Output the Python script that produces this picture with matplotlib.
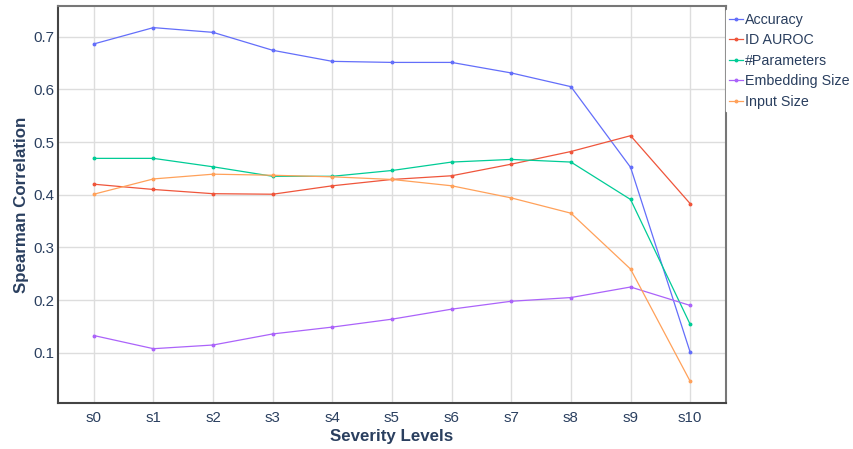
import matplotlib.pyplot as plt

plt.rcParams["font.family"] = ["Liberation Sans", "DejaVu Sans"]

levels = ["s0", "s1", "s2", "s3", "s4", "s5", "s6", "s7", "s8", "s9", "s10"]
accuracy = [0.686, 0.717, 0.708, 0.674, 0.653, 0.651, 0.651, 0.631, 0.605, 0.452, 0.101]
id_auroc = [0.420, 0.410, 0.402, 0.401, 0.417, 0.429, 0.436, 0.458, 0.482, 0.512, 0.383]
n_params = [0.469, 0.469, 0.453, 0.435, 0.435, 0.446, 0.462, 0.467, 0.462, 0.391, 0.154]
embed_size = [0.133, 0.108, 0.115, 0.136, 0.149, 0.164, 0.183, 0.198, 0.205, 0.225, 0.190]
input_size = [0.401, 0.430, 0.439, 0.437, 0.434, 0.429, 0.417, 0.394, 0.365, 0.259, 0.046]

series = [
    ("Accuracy", accuracy, "#636EFA"),
    ("ID AUROC", id_auroc, "#EF553B"),
    ("#Parameters", n_params, "#00CC96"),
    ("Embedding Size", embed_size, "#AB63FA"),
    ("Input Size", input_size, "#FFA15A"),
]

text_color = "#2a3f5f"

fig = plt.figure(figsize=(8.54, 4.49), dpi=100)
ax = fig.add_axes([58 / 854, 46 / 449, 668 / 854, 397 / 449])

x = list(range(len(levels)))
for name, vals, color in series:
    ax.plot(x, vals, color=color, lw=0.9, marker="o", ms=1.8, label=name)

ax.set_xlim(-0.6, 10.6)
ax.set_ylim(0.005, 0.758)
ax.set_xticks(x)
ax.set_xticklabels(levels)
ax.set_yticks([0.1, 0.2, 0.3, 0.4, 0.5, 0.6, 0.7])
ax.tick_params(axis="both", length=0, labelsize=10.8, labelcolor=text_color)
ax.tick_params(axis="x", pad=6)
ax.tick_params(axis="y", pad=2.5)
ax.grid(True, color="#dddddd", lw=1.0)
ax.set_axisbelow(True)

for side in ["left", "bottom"]:
    ax.spines[side].set_color("#444444")
    ax.spines[side].set_linewidth(1.5)
for side in ["top", "right"]:
    ax.spines[side].set_color("#777777")
    ax.spines[side].set_linewidth(1.5)

ax.set_xlabel("Severity Levels", fontsize=12.2, fontweight="bold", color=text_color, labelpad=3)
ax.set_ylabel("Spearman Correlation", fontsize=12.2, fontweight="bold", color=text_color, labelpad=3)

leg = ax.legend(
    loc="upper left",
    bbox_to_anchor=(1.0, 0.99),
    frameon=True,
    fontsize=10.3,
    handlelength=1.0,
    handletextpad=0.15,
    borderaxespad=0.0,
    borderpad=0.2,
    labelspacing=0.45,
)
leg.get_frame().set_edgecolor("white")
leg.get_frame().set_facecolor("white")
leg.get_frame().set_alpha(1.0)
leg.get_frame().set_boxstyle("square", pad=0)
leg.set_zorder(5)
for t in leg.get_texts():
    t.set_color(text_color)

fig.savefig("out.png", dpi=100)
